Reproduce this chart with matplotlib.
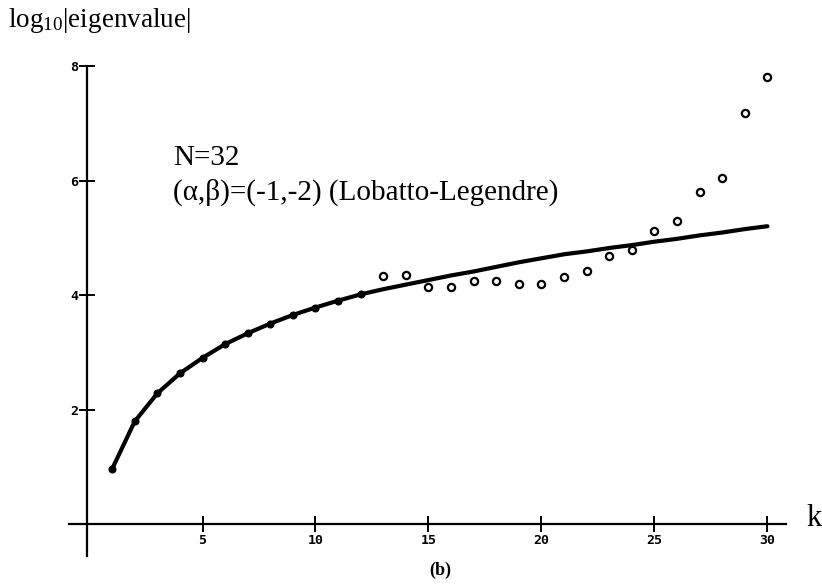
"""Eigenvalue magnitudes, N=32, Lobatto-Legendre (panel b)."""

import numpy as np
import matplotlib.pyplot as plt

# data
k_curve = list(range(1, 31))
log_curve = [0.97, 1.80, 2.29, 2.64, 2.91, 3.15, 3.34, 3.51, 3.66, 3.79,
             3.91, 4.02, 4.11, 4.19, 4.27, 4.35, 4.42, 4.50, 4.58, 4.65,
             4.72, 4.77, 4.83, 4.88, 4.94, 4.99, 5.05, 5.10, 5.16, 5.21]
k_dots = list(range(1, 13))
log_dots = log_curve[:12]
k_open = list(range(13, 31))
log_open = [4.34, 4.35, 4.14, 4.14, 4.26, 4.26, 4.20, 4.20, 4.33, 4.43,
            4.69, 4.80, 5.13, 5.30, 5.80, 6.06, 7.18, 7.81]
xticks = [5, 10, 15, 20, 25, 30]
yticks = [2, 4, 6, 8]

serif = 'Liberation Serif'
plt.rcParams['mathtext.fontset'] = 'custom'
plt.rcParams['mathtext.rm'] = serif
plt.rcParams['mathtext.it'] = serif
tickFont = dict(family='DejaVu Sans Mono', size=9.5, weight='bold')

fig = plt.figure(figsize=(8.22, 5.85), dpi=100)
ax = fig.add_axes([0.0814, 0.0447, 0.8935, 0.871])
ax.set_xlim(-1, 31.5)
ax.set_ylim(-0.6, 8.3)

for side in ['top', 'right']:
    ax.spines[side].set_visible(False)
ax.spines['left'].set_position(('data', -0.1))
ax.spines['bottom'].set_position(('data', 0))
ax.spines['left'].set_bounds(-0.55, 8.0)
ax.spines['bottom'].set_bounds(-0.9, 30.8)
for side in ['left', 'bottom']:
    ax.spines[side].set_linewidth(1.6)

ax.set_xticks(xticks)
ax.set_yticks(yticks)
ax.tick_params(direction='inout', length=11, width=1.4, pad=1)
ax.set_xticklabels([str(t) for t in xticks], fontdict=tickFont)
ax.set_yticklabels([str(t) for t in yticks], fontdict=tickFont)

ax.plot(k_curve, log_curve, color='black', lw=3.0, solid_capstyle='round', zorder=2)
ax.plot(k_dots, log_dots, 'o', color='black', ms=4.8, zorder=3)
ax.plot(k_open, log_open, 'o', mfc='white', mec='black', mew=1.6, ms=5.2, zorder=3)

fig.text(0.01, 0.965, r'log$_{\mathrm{10}}$|eigenvalue|', family=serif, fontsize=19.5, va='center')
ax.text(3.7, 6.4, 'N=32', family=serif, fontsize=21, va='center')
ax.text(3.7, 5.8, '(\u03b1,\u03b2)=(-1,-2) (Lobatto-Legendre)', family=serif, fontsize=21, va='center')
fig.text(1.0, 0.113, 'k', family=serif, fontsize=22, ha='right', va='center')
fig.text(0.535, 0.025, '(b)', family=serif, fontsize=13, weight='bold', ha='center', va='center')

plt.savefig('out.png', dpi=100)
